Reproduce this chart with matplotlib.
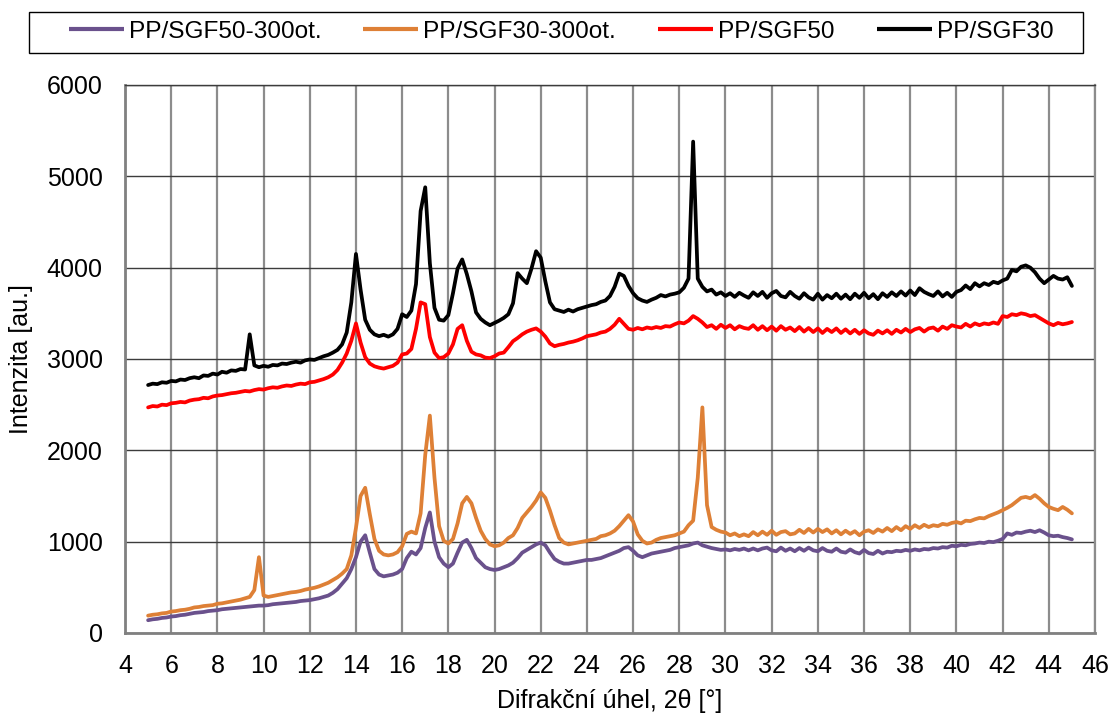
import numpy as np
import matplotlib
matplotlib.use("Agg")
import matplotlib.pyplot as plt
from matplotlib.patches import Rectangle

plt.rcParams['font.family'] = ['Liberation Sans', 'DejaVu Sans']

# 2-theta scan from 5 to 45 deg, 0.2 deg step
two_theta = np.round(np.arange(5.0, 45.0 + 0.1, 0.2), 1)

sgf50_300 = [
    140, 150, 155, 165, 170, 180, 185, 195, 200, 210,
    220, 225, 230, 240, 245, 250, 260, 265, 270, 275,
    280, 285, 290, 295, 300, 300, 305, 315, 320, 325,
    330, 335, 340, 350, 355, 360, 370, 380, 395, 410,
    440, 480, 540, 600, 700, 830, 1000, 1070, 880, 700,
    640, 620, 630, 640, 660, 700, 820, 890, 860, 930,
    1150, 1320, 1000, 830, 760, 720, 760, 880, 990, 1020,
    930, 820, 770, 720, 700, 690, 700, 720, 740, 770,
    820, 880, 910, 940, 970, 990, 960, 880, 810, 780,
    760, 760, 770, 780, 790, 800, 800, 810, 820, 840,
    860, 880, 900, 930, 940, 900, 850, 830, 850, 870,
    880, 890, 900, 910, 930, 940, 950, 960, 980, 990,
    960, 945, 930, 920, 910, 915, 905, 920, 910, 925,
    905, 925, 905, 925, 935, 905, 895, 935, 900, 925,
    895, 930, 900, 935, 905, 895, 930, 900, 890, 925,
    890, 880, 915, 885, 870, 910, 875, 865, 900, 870,
    890, 885, 900, 895, 910, 900, 915, 905, 920, 915,
    930, 925, 940, 935, 955, 950, 965, 960, 975, 980,
    990, 985, 1000, 995, 1010, 1030, 1090, 1075, 1100, 1095,
    1110, 1120, 1105, 1125, 1100, 1070, 1060, 1065, 1050, 1040,
    1025,
]

sgf30_300 = [
    190, 200, 205, 215, 220, 235, 240, 250, 255, 265,
    280, 285, 295, 300, 305, 320, 325, 335, 345, 355,
    365, 380, 395, 470, 830, 410, 395, 405, 415, 425,
    435, 445, 450, 460, 475, 485, 495, 510, 530, 550,
    580, 610, 650, 700, 850, 1150, 1500, 1590, 1300, 1030,
    900, 860, 850, 860, 885, 950, 1085, 1110, 1090, 1310,
    1950, 2380, 1700, 1170, 1010, 980, 1030, 1200, 1420, 1490,
    1420, 1260, 1120, 1030, 970, 950, 960, 990, 1040, 1070,
    1150, 1260, 1320, 1380, 1450, 1540, 1480, 1340, 1180, 1040,
    990, 970, 980, 990, 1000, 1010, 1020, 1030, 1060, 1070,
    1090, 1120, 1170, 1230, 1290, 1220, 1080, 1010, 980, 990,
    1020, 1040, 1050, 1060, 1070, 1090, 1110, 1180, 1230, 1700,
    2470, 1400, 1160, 1130, 1110, 1100, 1070, 1090, 1060, 1080,
    1060, 1105, 1070, 1110, 1075, 1120, 1075, 1105, 1115, 1080,
    1090, 1130, 1095, 1140, 1100, 1140, 1105, 1135, 1090, 1125,
    1080, 1120, 1085, 1115, 1070, 1110, 1125, 1095, 1135, 1110,
    1150, 1115, 1160, 1125, 1170, 1140, 1180, 1150, 1185, 1160,
    1180, 1170, 1195, 1185, 1205, 1215, 1200, 1230, 1225, 1245,
    1260, 1255, 1280, 1300, 1320, 1345, 1370, 1400, 1440, 1480,
    1490, 1475, 1510, 1470, 1420, 1380, 1360, 1345, 1380, 1350,
    1310,
]

sgf50 = [
    2470, 2485, 2480, 2500, 2495, 2515, 2520, 2530, 2525, 2545,
    2555, 2560, 2575, 2570, 2590, 2600, 2605, 2615, 2625, 2630,
    2640, 2650, 2645, 2660, 2670, 2665, 2680, 2690, 2685, 2700,
    2710, 2705, 2720, 2730, 2725, 2745, 2750, 2765, 2780, 2800,
    2830, 2880, 2960, 3060, 3200, 3390, 3180, 3020, 2950, 2920,
    2905, 2895, 2910, 2925, 2960, 3050, 3060, 3110, 3330, 3620,
    3600, 3240, 3070, 3010, 3020, 3060, 3160, 3330, 3370, 3200,
    3080, 3050, 3040, 3015, 3010, 3030, 3060, 3070, 3130, 3195,
    3230, 3270, 3300, 3320, 3335, 3300, 3245, 3170, 3140, 3155,
    3165, 3180, 3190, 3205, 3225, 3250, 3260, 3270, 3290, 3300,
    3330, 3375, 3440, 3385, 3330, 3320, 3340, 3325, 3345, 3335,
    3350, 3340, 3360, 3355, 3380, 3400, 3390, 3420, 3470, 3440,
    3400, 3350, 3370, 3330, 3375, 3340, 3370, 3325, 3360, 3340,
    3330, 3370, 3320, 3360, 3315, 3355, 3310, 3360, 3320, 3345,
    3305, 3350, 3300, 3340, 3295, 3335, 3285, 3330, 3295, 3335,
    3285, 3325, 3280, 3320, 3275, 3315, 3280, 3265, 3310, 3280,
    3315, 3275, 3320, 3290, 3330, 3295, 3325, 3340, 3300, 3335,
    3345, 3310, 3355, 3330, 3370, 3355, 3345, 3385, 3355, 3390,
    3370, 3390, 3380, 3400, 3385, 3470, 3460, 3490, 3480, 3500,
    3490, 3470, 3480, 3450, 3420, 3390, 3370, 3395, 3380, 3390,
    3405,
]

sgf30 = [
    2715, 2730, 2725, 2745, 2740, 2760, 2755, 2775, 2770, 2790,
    2800, 2790, 2820, 2815, 2840, 2830, 2860, 2850, 2875, 2870,
    2890, 2885, 3270, 2930, 2910, 2925, 2915, 2935, 2930, 2950,
    2945, 2960, 2970, 2960, 2985, 2995, 2990, 3010, 3030, 3045,
    3070, 3100, 3160, 3290, 3620, 4150, 3760, 3430, 3320, 3270,
    3250, 3265, 3245, 3270, 3330, 3490, 3460, 3530, 3820, 4620,
    4880, 4050, 3560, 3430, 3420, 3480, 3720, 3990, 4090, 3930,
    3740, 3510, 3440, 3400, 3370, 3395, 3420, 3450, 3490, 3610,
    3940, 3880, 3830, 3990, 4180, 4110, 3850, 3620, 3545, 3530,
    3515, 3540, 3520, 3545, 3560, 3575, 3590, 3600, 3625, 3640,
    3690, 3790, 3935, 3910, 3800, 3720, 3665, 3640, 3625, 3650,
    3670, 3700, 3685, 3705, 3715, 3730, 3780, 3880, 5380, 3880,
    3790, 3740, 3760, 3705, 3730, 3690, 3720, 3680, 3725, 3695,
    3670, 3730, 3690, 3735, 3670, 3720, 3745, 3690, 3675, 3735,
    3690, 3660, 3720, 3675, 3650, 3715, 3650, 3700, 3665, 3715,
    3660, 3705, 3655, 3715, 3670, 3725, 3665, 3710, 3655, 3720,
    3680, 3730, 3690, 3740, 3695, 3750, 3700, 3775, 3735, 3710,
    3690, 3740, 3685, 3725, 3680, 3735, 3755, 3805, 3765, 3830,
    3795, 3830, 3810, 3845, 3830, 3860, 3880, 3975, 3960, 4010,
    4025, 4000, 3950, 3880, 3830, 3870, 3910, 3880, 3870, 3895,
    3800,
]

series_names = ["PP/SGF50-300ot.", "PP/SGF30-300ot.", "PP/SGF50", "PP/SGF30"]
series_colors = ["#6A518C", "#DE8036", "#FF0000", "#000000"]
series_values = [sgf50_300, sgf30_300, sgf50, sgf30]

x_ticks = list(range(4, 47, 2))
y_ticks = list(range(0, 6001, 1000))

W, H = 1114, 715
fig = plt.figure(figsize=(W / 100, H / 100), dpi=100)
ax = fig.add_axes([125 / W, 1 - 633 / H, (1095 - 125) / W, (633 - 85) / H])

handles = []
for name, color, vals in zip(series_names, series_colors, series_values):
    (ln,) = ax.plot(two_theta, vals, color=color, lw=2.7, label=name,
                    solid_joinstyle="round", solid_capstyle="round", zorder=3)
    handles.append(ln)

ax.set_xlim(4, 46)
ax.set_ylim(0, 6000)
ax.set_xticks(x_ticks)
ax.set_yticks(y_ticks)
ax.xaxis.grid(True, color="#8c8c8c", lw=1.6)
ax.yaxis.grid(True, color="#3c3c3c", lw=1.0)
ax.set_axisbelow(True)

for side in ("left", "bottom"):
    ax.spines[side].set_color("#808080")
    ax.spines[side].set_linewidth(2.0)
ax.spines["top"].set_color("#3c3c3c")
ax.spines["top"].set_linewidth(1.0)
ax.spines["right"].set_color("#8c8c8c")
ax.spines["right"].set_linewidth(1.6)

ax.tick_params(axis="both", length=0, labelsize=18, colors="black")
ax.tick_params(axis="x", pad=15)
ax.tick_params(axis="y", pad=16)

ax.set_xlabel("Difrakční úhel, 2θ [°]", fontsize=18, labelpad=8)
ax.set_ylabel("Intenzita [au.]", fontsize=18, labelpad=10)

# Legend row above the plot, inside a plain rectangular box
box_left, box_right, box_top, box_bottom = 29, 1083, 12, 53
fig.add_artist(Rectangle((box_left / W, 1 - box_bottom / H),
                         (box_right - box_left) / W, (box_bottom - box_top) / H,
                         transform=fig.transFigure, fill=False,
                         edgecolor="black", lw=1.0))
leg_fs = 17.6
em = leg_fs * 100 / 72
leg = fig.legend(handles, series_names, loc="center",
                 bbox_to_anchor=(561 / W, 1 - 32 / H), ncol=4,
                 fontsize=leg_fs, frameon=False,
                 handlelength=55 / em, handletextpad=5 / em,
                 columnspacing=42 / em, borderpad=0, borderaxespad=0)
for lh in leg.get_lines():
    lh.set_linewidth(3.0)
    lh.set_solid_capstyle("butt")

fig.savefig("out.png", dpi=100)
